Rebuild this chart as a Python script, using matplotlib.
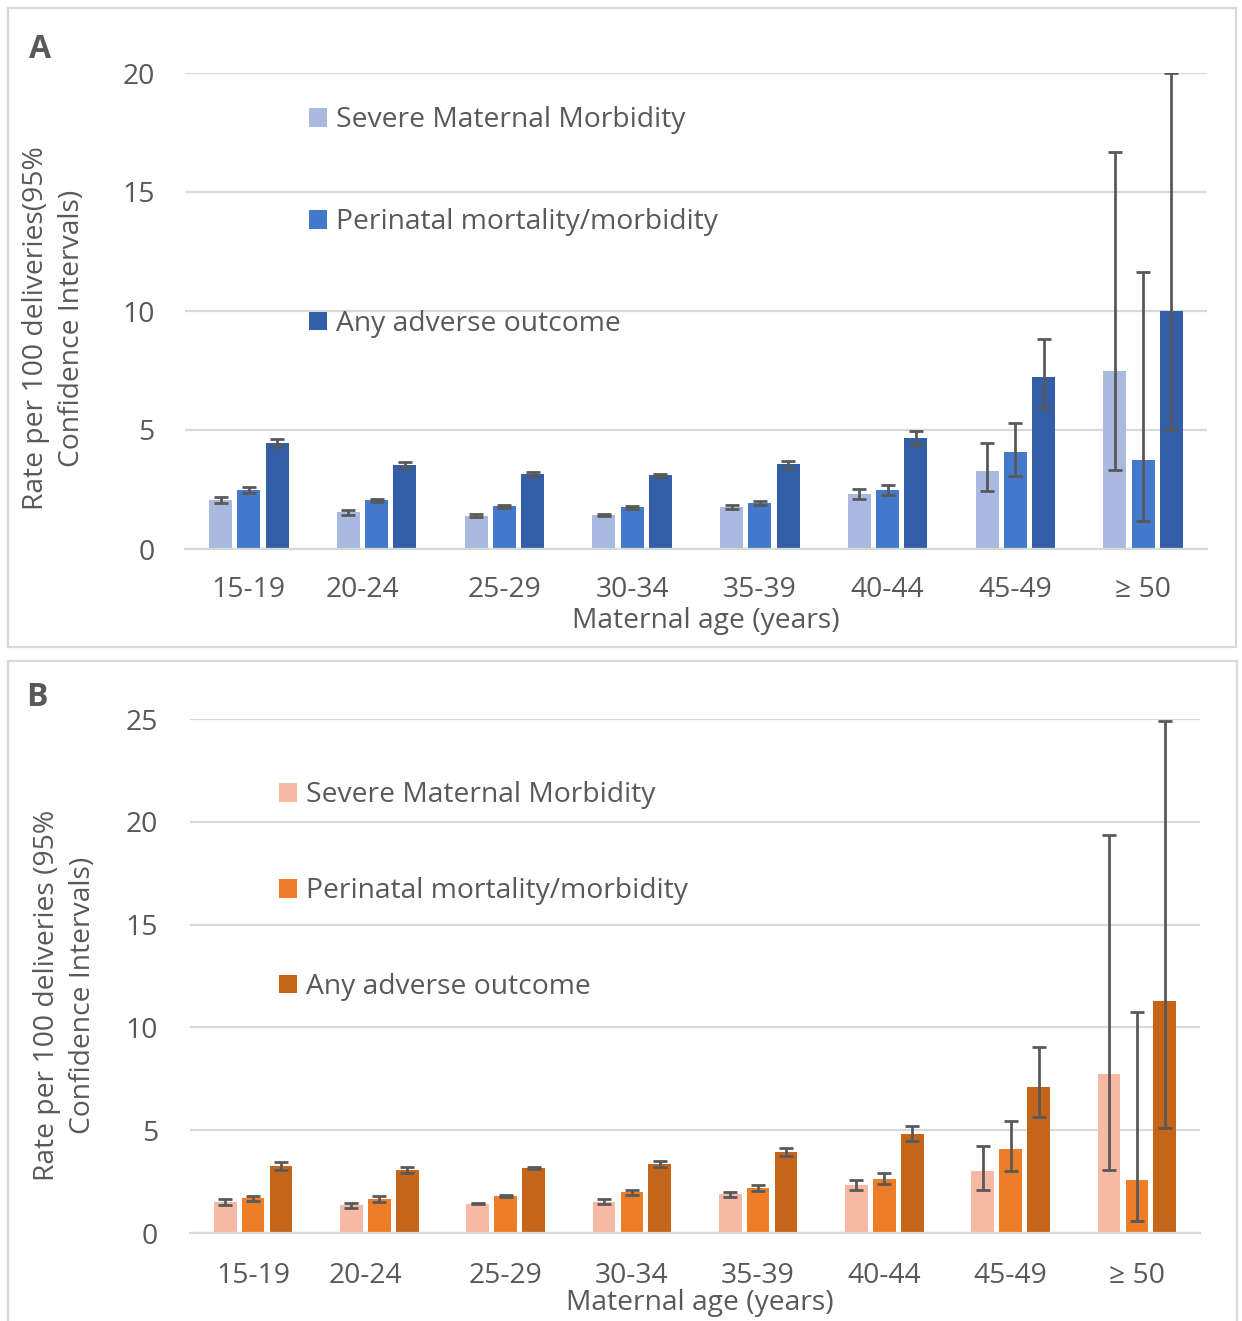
import matplotlib
matplotlib.use("Agg")
import matplotlib.pyplot as plt
from matplotlib.patches import Rectangle, Patch
from matplotlib.transforms import ScaledTranslation
import numpy as np

plt.rcParams['font.family'] = ['Open Sans', 'DejaVu Sans']

# ---------------- data ----------------
categories = ['15-19', '20-24', '25-29', '30-34', '35-39', '40-44', '45-49', '≥ 50']
series_names = ['Severe Maternal Morbidity', 'Perinatal mortality/morbidity', 'Any adverse outcome']

# Panel A
smm_a = [2.06, 1.54, 1.40, 1.43, 1.76, 2.30, 3.29, 7.49]
smm_a_lo = [1.95, 1.44, 1.35, 1.38, 1.69, 2.09, 2.45, 3.34]
smm_a_hi = [2.17, 1.64, 1.45, 1.48, 1.83, 2.51, 4.44, 16.70]
pmm_a = [2.47, 2.04, 1.79, 1.75, 1.92, 2.48, 4.08, 3.75]
pmm_a_lo = [2.34, 1.96, 1.72, 1.69, 1.85, 2.27, 3.08, 1.18]
pmm_a_hi = [2.62, 2.12, 1.86, 1.81, 2.00, 2.69, 5.29, 11.63]
any_a = [4.45, 3.52, 3.16, 3.10, 3.56, 4.65, 7.22, 10.02]
any_a_lo = [4.27, 3.40, 3.07, 3.03, 3.42, 4.38, 5.91, 4.99]
any_a_hi = [4.62, 3.64, 3.25, 3.17, 3.70, 4.94, 8.82, 20.00]

# Panel B
smm_b = [1.52, 1.34, 1.43, 1.52, 1.90, 2.33, 3.01, 7.72]
smm_b_lo = [1.36, 1.22, 1.39, 1.39, 1.75, 2.09, 2.09, 3.06]
smm_b_hi = [1.65, 1.46, 1.47, 1.65, 2.01, 2.56, 4.22, 19.36]
pmm_b = [1.69, 1.65, 1.80, 1.99, 2.18, 2.64, 4.08, 2.58]
pmm_b_lo = [1.55, 1.52, 1.77, 1.85, 2.04, 2.39, 3.02, 0.60]
pmm_b_hi = [1.82, 1.78, 1.83, 2.11, 2.34, 2.91, 5.47, 10.73]
any_b = [3.27, 3.06, 3.16, 3.38, 3.94, 4.82, 7.12, 11.27]
any_b_lo = [3.06, 2.90, 3.13, 3.20, 3.76, 4.46, 5.62, 5.11]
any_b_hi = [3.46, 3.20, 3.19, 3.51, 4.13, 5.20, 9.04, 24.90]

colors_a = ['#A9B9E0', '#4279CA', '#335FA8']
colors_b = ['#F5B9A4', '#ED7D27', '#C5651A']

TXT = '#595959'
GRID = '#D9D9D9'
FS = 20.3

W, H = 1242, 1321
fig = plt.figure(figsize=(W / 100, H / 100), dpi=100)


def fx(px):
    return px / W


def fy(py):
    return 1 - py / H


def panel(ax, vals, los, his, colors, ymax, ystep, ylabel, letter, letter_xy,
          ylab_xy, xlab_xy, leg_center, leg_spacing, tickpad_y, tickpad_x):
    x = np.arange(len(categories))
    width = 0.18
    pitch = 0.2215
    for i, (v, lo, hi, c) in enumerate(zip(vals, los, his, colors)):
        v = np.array(v)
        xs = x + (i - 1) * pitch
        ax.bar(xs, v, width=width, color=c, zorder=2, label=series_names[i])
        yerr = np.vstack([v - np.array(lo), np.array(hi) - v])
        ax.errorbar(xs, v, yerr=yerr, fmt='none', ecolor='#595959',
                    elinewidth=2.0, capsize=4.7, capthick=2.0, zorder=3)
    ax.set_xlim(-0.5, len(categories) - 0.5)
    ax.set_ylim(0, ymax)
    ticks = np.arange(0, ymax + 0.1, ystep)
    ax.set_yticks(ticks)
    ax.set_yticklabels([str(int(t)) for t in ticks])
    ax.set_xticks(x)
    ax.set_xticklabels(categories)
    ax.grid(axis='y', color=GRID, linewidth=1.6, zorder=0)
    ax.set_axisbelow(True)
    for s in ['top', 'right', 'left']:
        ax.spines[s].set_visible(False)
    ax.spines['bottom'].set_color(GRID)
    ax.spines['bottom'].set_linewidth(1.6)
    ax.tick_params(axis='both', length=0, labelsize=FS, colors=TXT)
    ax.tick_params(axis='y', pad=tickpad_y)
    ax.tick_params(axis='x', pad=tickpad_x)
    # shift the '20-24' label slightly left as in the reference
    lab = ax.get_xticklabels()[1]
    lab.set_transform(lab.get_transform() + ScaledTranslation(-14 / 100, 0, fig.dpi_scale_trans))

    fig.text(fx(ylab_xy[0]), fy(ylab_xy[1]), ylabel, rotation=90, ha='center', va='center',
             fontsize=FS, color=TXT, multialignment='center', linespacing=1.4)
    fig.text(fx(xlab_xy[0]), fy(xlab_xy[1]),
             'Maternal age (years)', ha='center', va='center', fontsize=FS, color=TXT)
    fig.text(fx(letter_xy[0]), fy(letter_xy[1]), letter, ha='left', va='center',
             fontsize=23, fontweight='bold', color=TXT)

    handles = [Patch(facecolor=c, edgecolor='none') for c in colors]
    leg = ax.legend(handles, series_names, loc='center left',
                    bbox_to_anchor=(fx(leg_center[0]), fy(leg_center[1])),
                    bbox_transform=fig.transFigure, frameon=False, fontsize=FS,
                    handlelength=0.65, handleheight=0.65, handletextpad=0.3,
                    labelspacing=leg_spacing, borderpad=0, borderaxespad=0)
    for t in leg.get_texts():
        t.set_color(TXT)


# Panel frames
fig.add_artist(Rectangle((fx(8), fy(647)), fx(1236) - fx(8), fy(8) - fy(647),
                         transform=fig.transFigure, fill=False, edgecolor=GRID, linewidth=1.6))
fig.add_artist(Rectangle((fx(8), fy(1330)), fx(1237) - fx(8), fy(661) - fy(1330),
                         transform=fig.transFigure, fill=False, edgecolor=GRID, linewidth=1.6))

axA = fig.add_axes([fx(185), fy(549), fx(1207) - fx(185), fy(73) - fy(549)])
panel(axA, [smm_a, pmm_a, any_a], [smm_a_lo, pmm_a_lo, any_a_lo], [smm_a_hi, pmm_a_hi, any_a_hi],
      colors_a, 20, 5, 'Rate per 100 deliveries(95%\nConfidence Intervals)', 'A', (29, 49),
      (54, 328), (706, 621), (309, 222), 2.62, 22, 19.5)

axB = fig.add_axes([fx(190), fy(1233), fx(1200) - fx(190), fy(719) - fy(1233)])
panel(axB, [smm_b, pmm_b, any_b], [smm_b_lo, pmm_b_lo, any_b_lo], [smm_b_hi, pmm_b_hi, any_b_hi],
      colors_b, 25, 5, 'Rate per 100 deliveries (95%\nConfidence Intervals)', 'B', (26, 697),
      (65, 995), (700, 1303), (279, 891), 2.41, 23, 21)

fig.savefig('out.png', dpi=100)
